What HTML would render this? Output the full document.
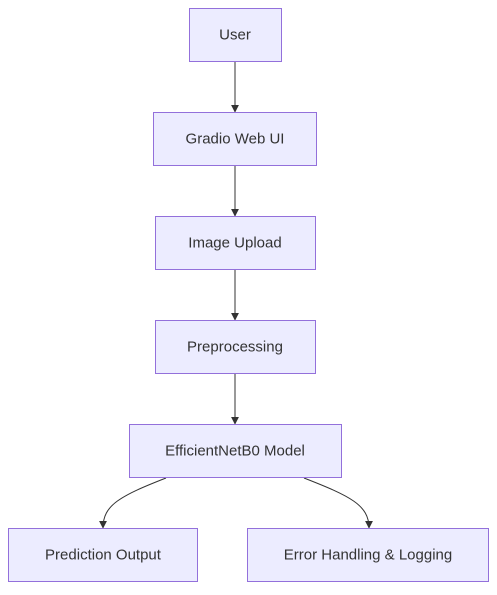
<!DOCTYPE html>
<html><head><style>
body{margin:0;background:#fff;width:497px;height:590px;overflow:hidden}
svg text{font-family:"Liberation Sans",sans-serif;font-size:15px;fill:#333;text-anchor:middle;dominant-baseline:central}
rect{fill:#ECECFF;stroke:#9370DB;stroke-width:1}
</style></head><body>
<svg width="497" height="590" viewBox="0 0 497 590">
<defs><marker id="a" viewBox="0 0 10 10" refX="9" refY="5" markerWidth="8" markerHeight="8" orient="auto"><path d="M0,0L10,5L0,10z" fill="#333"/></marker></defs>
<g stroke="#333" stroke-width="1" fill="none">
<path d="M235,61V112" marker-end="url(#a)"/>
<path d="M235,165V216" marker-end="url(#a)"/>
<path d="M235,269V320" marker-end="url(#a)"/>
<path d="M235,373V424" marker-end="url(#a)"/>
<path d="M166,478C120,496 103,505 103,528" marker-end="url(#a)"/>
<path d="M304,478C350,496 369,505 369,528" marker-end="url(#a)"/>
</g>
<rect x="189.5" y="8.5" width="92" height="53"/><text x="235" y="35">User</text>
<rect x="153.5" y="112.5" width="163" height="53"/><text x="235" y="139">Gradio Web UI</text>
<rect x="155.5" y="216.5" width="160" height="53"/><text x="235" y="243">Image Upload</text>
<rect x="155.5" y="320.5" width="160" height="53"/><text x="235" y="347">Preprocessing</text>
<rect x="129.5" y="424.5" width="212" height="53"/><text x="235" y="451">EfficientNetB0 Model</text>
<rect x="8.5" y="528.5" width="189" height="53"/><text x="103" y="555">Prediction Output</text>
<rect x="247.5" y="528.5" width="241" height="53"/><text x="368" y="555">Error Handling &amp; Logging</text>
</svg>
</body></html>
